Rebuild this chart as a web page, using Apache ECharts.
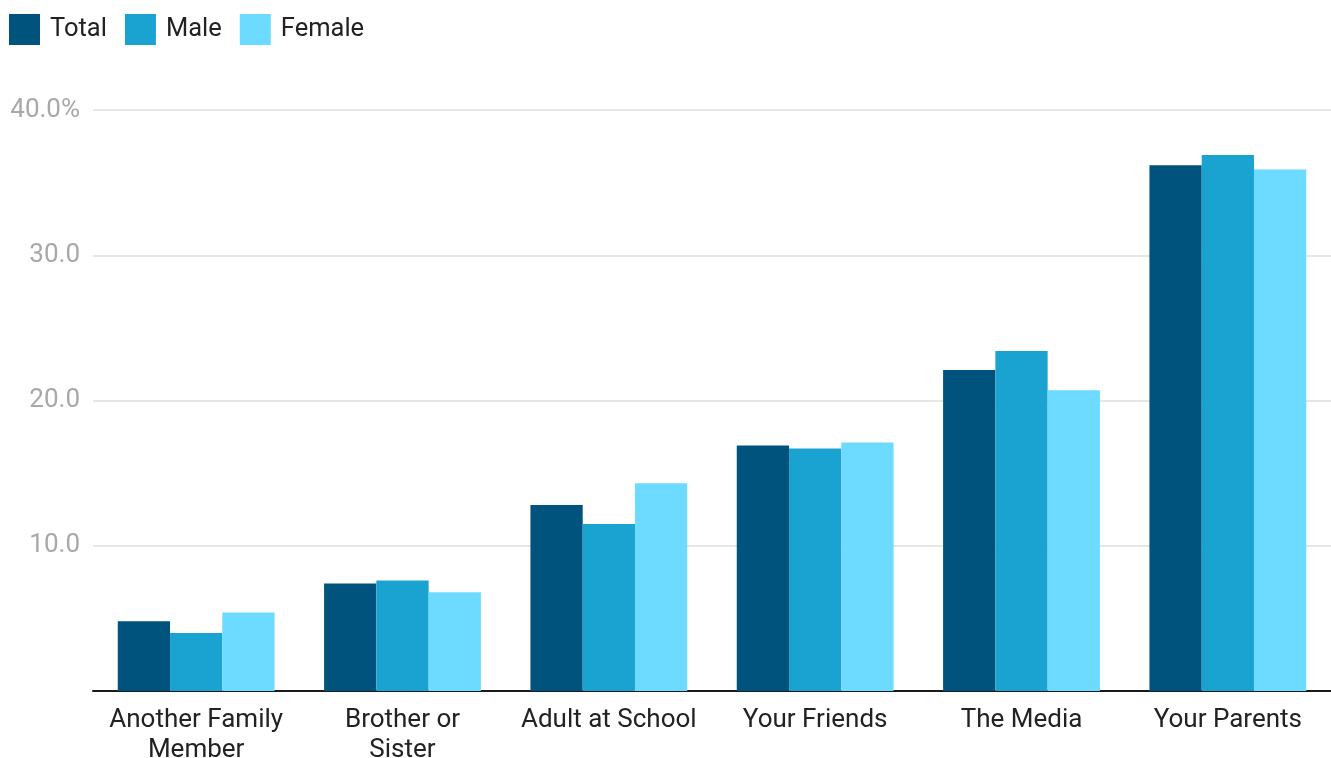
<!DOCTYPE html>
<html>
<head>
<meta charset="utf-8">
<script src="https://cdn.jsdelivr.net/npm/echarts@6/dist/echarts.min.js"></script>
<style>
  html, body { margin: 0; padding: 0; background: #fff; }
  #main { width: 1331px; height: 758px; }
</style>
</head>
<body>
<div id="main"></div>
<script>
    var categories = ['Another Family\nMember', 'Brother or\nSister', 'Adult at School', 'Your Friends', 'The Media', 'Your Parents'];
    var totalValues = [4.8, 7.4, 12.8, 16.9, 22.1, 36.2];
    var maleValues = [4.0, 7.6, 11.5, 16.7, 23.4, 36.9];
    var femaleValues = [5.4, 6.8, 14.3, 17.1, 20.7, 35.9];
    var seriesNames = ['Total', 'Male', 'Female'];
    var colors = ['#00537c', '#1aa3d0', '#6cdbff'];

    var chart = echarts.init(document.getElementById('main'));

    var option = {
        animation: false,
        color: colors,
        textStyle: { fontFamily: 'Roboto' },
        legend: {
            data: seriesNames,
            left: 9,
            top: 14,
            padding: 0,
            itemWidth: 31,
            itemHeight: 31,
            itemGap: 18,
            icon: 'rect',
            textStyle: { fontSize: 25.5, color: '#222', padding: [2, 0, 0, 5] }
        },
        grid: {
            top: 110,
            left: 93,
            right: 0,
            bottom: 67,
            outerBoundsMode: 'none',
            containLabel: false
        },
        xAxis: {
            type: 'category',
            data: categories,
            axisTick: { show: false },
            axisLine: { lineStyle: { color: '#1a1a1a', width: 2 } },
            axisLabel: {
                fontSize: 26,
                color: '#222',
                margin: 14,
                lineHeight: 30,
                interval: 0
            }
        },
        yAxis: {
            type: 'value',
            min: 0,
            max: 40,
            interval: 10,
            axisLine: { show: false },
            axisTick: { show: false },
            splitLine: { lineStyle: { color: '#e6e6e6', width: 2 } },
            axisLabel: {
                fontSize: 26,
                color: '#a8a8a8',
                margin: 13,
                padding: [3, 0, 0, 0],
                formatter: function (v) {
                    if (v === 0) return '';
                    if (v === 40) return '40.0%';
                    return v.toFixed(1);
                }
            }
        },
        series: [
            { name: seriesNames[0], type: 'bar', data: totalValues, barGap: 0, barCategoryGap: '24%' },
            { name: seriesNames[1], type: 'bar', data: maleValues, barGap: 0, barCategoryGap: '24%' },
            { name: seriesNames[2], type: 'bar', data: femaleValues, barGap: 0, barCategoryGap: '24%' }
        ]
    };

    chart.setOption(option);
</script>
</body>
</html>
